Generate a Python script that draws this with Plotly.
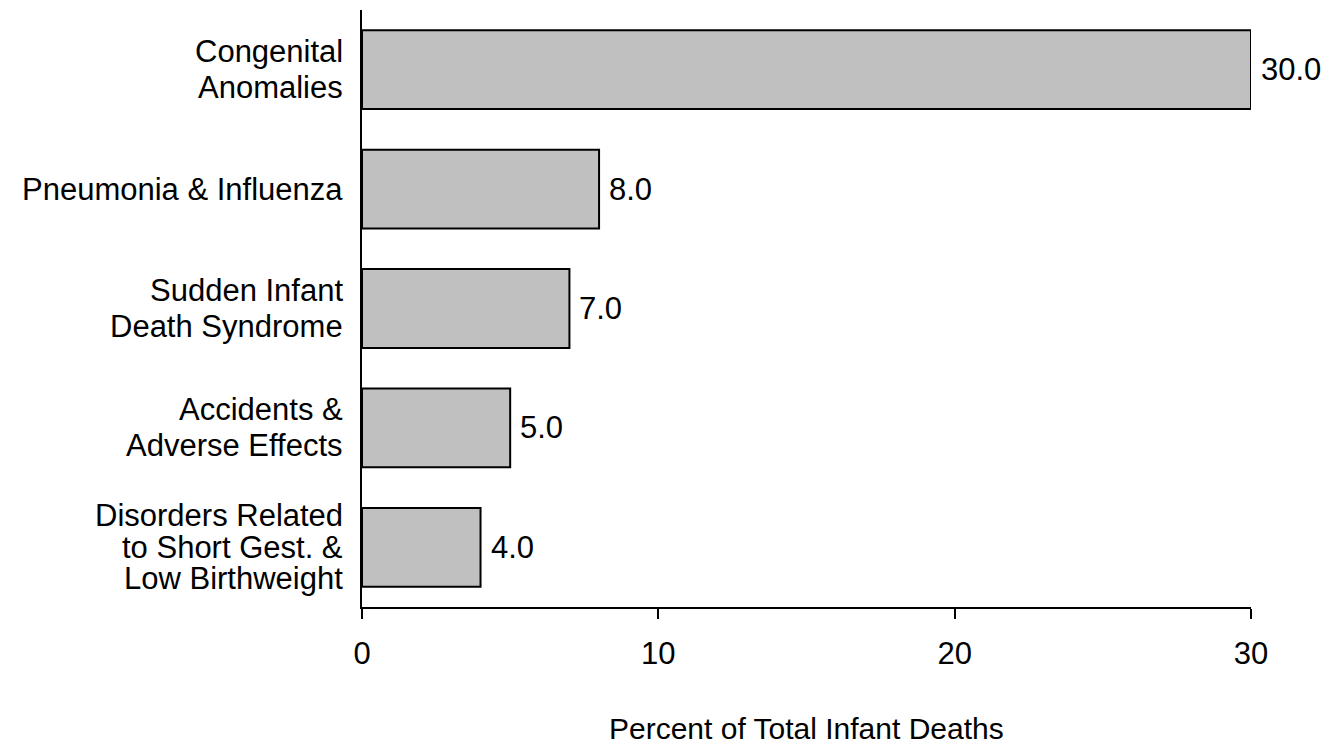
import plotly.graph_objects as go

categories = [
    "Congenital<br>Anomalies",
    "Pneumonia & Influenza",
    "Sudden Infant<br>Death Syndrome",
    "Accidents &<br>Adverse Effects",
    "Disorders Related<br>to Short Gest. &<br>Low Birthweight",
]
values = [30.0, 8.0, 7.0, 5.0, 4.0]
x_ticks = [0, 10, 20, 30]
x_title = "Percent of Total Infant Deaths"

FONT = "Liberation Sans, Arial, sans-serif"

fig = go.Figure()
fig.add_trace(go.Bar(
    x=values,
    y=categories,
    orientation="h",
    marker=dict(color="#c0c0c0", line=dict(color="black", width=2)),
    hoverinfo="x+y",
))

annotations = []
for cat, val in zip(categories, values):
    lines = cat.split("<br>")
    n = len(lines)
    spacing = 36 if n <= 2 else 31.5
    for i, line in enumerate(lines):
        off = (i - (n - 1) / 2) * spacing
        annotations.append(dict(
            x=0, xref="paper", y=cat, yref="y",
            text=line, showarrow=False, xanchor="right", yanchor="middle",
            xshift=-17, yshift=-off,
            font=dict(family=FONT, size=31, color="black"),
        ))
    annotations.append(dict(
        x=val, xref="x", y=cat, yref="y",
        text=f"{val:.1f}", showarrow=False, xanchor="left", yanchor="middle",
        xshift=8,
        font=dict(family=FONT, size=31, color="black"),
    ))

# x-axis title
annotations.append(dict(
    x=0.5, xref="paper", y=0, yref="paper",
    text=x_title, showarrow=False, xanchor="center", yanchor="middle",
    yshift=-121,
    font=dict(family=FONT, size=30, color="black"),
))

fig.update_layout(
    width=1328, height=745,
    margin=dict(l=362, r=77, t=10, b=138),
    paper_bgcolor="white", plot_bgcolor="white",
    showlegend=False,
    bargap=0.34,
    font=dict(family=FONT, size=31, color="black"),
    annotations=annotations,
    xaxis=dict(
        range=[0, 30], tickvals=x_ticks, ticktext=[str(t) for t in x_ticks],
        ticks="outside", ticklen=10, tickwidth=2, tickcolor="black",
        showline=True, linewidth=2, linecolor="black",
        showgrid=False, zeroline=False,
        tickfont=dict(family=FONT, size=31),
        ticklabelstandoff=8,
        automargin=False,
    ),
    yaxis=dict(
        categoryorder="array", categoryarray=categories, autorange="reversed",
        showticklabels=False, ticks="",
        showline=True, linewidth=2, linecolor="black",
        showgrid=False, zeroline=False,
        automargin=False,
    ),
)

fig.write_html(
    "out.html",
    config={"displayModeBar": False},
    post_script="document.body.style.margin='0';document.body.style.overflow='hidden';",
)
